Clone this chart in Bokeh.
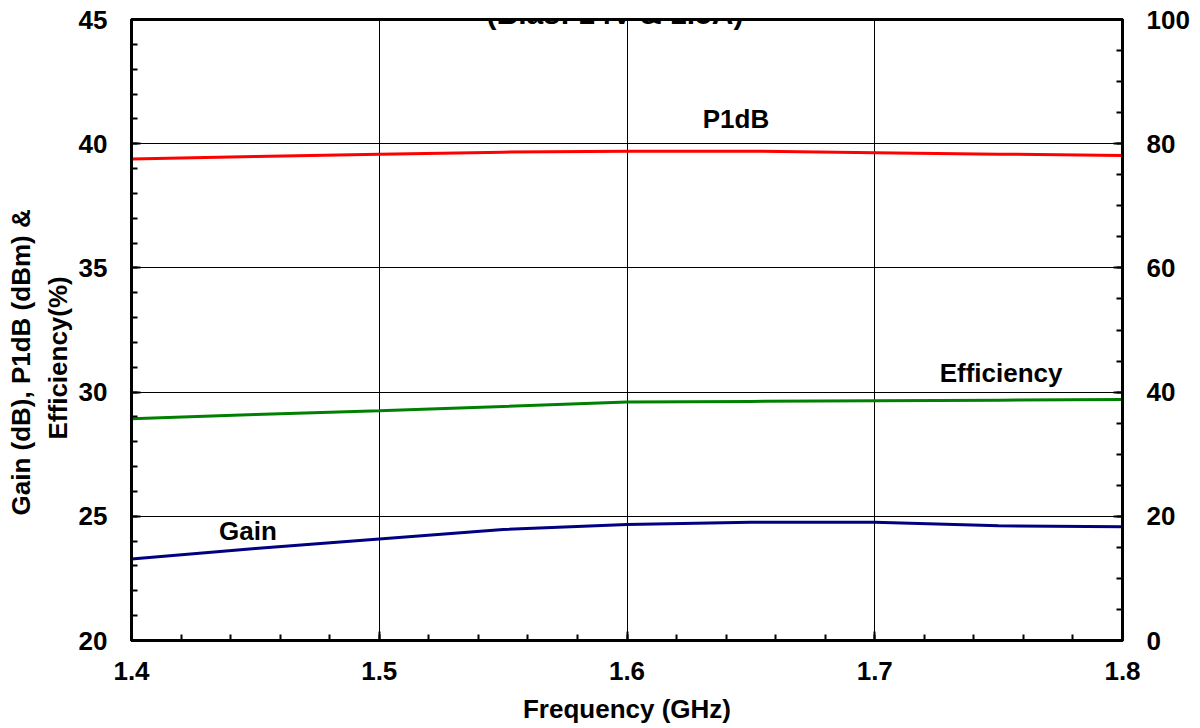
import math
from bokeh.plotting import figure
from bokeh.models import (Range1d, LinearAxis, SingleIntervalTicker,
                          PrintfTickFormatter, Label, Title)
from bokeh.embed import file_html
from bokeh.resources import INLINE

# ---- data ----
freq_ghz = [1.40, 1.45, 1.50, 1.55, 1.60, 1.65, 1.70, 1.75, 1.80]
p1db_dbm = [39.38, 39.48, 39.58, 39.66, 39.70, 39.70, 39.64, 39.58, 39.52]
gain_db = [23.28, 23.70, 24.09, 24.47, 24.67, 24.76, 24.76, 24.62, 24.58]
efficiency_pct = [35.7, 36.4, 37.0, 37.7, 38.4, 38.5, 38.6, 38.7, 38.8]

title_text = "(Bias: 14V & 1.5A)"
x_label = "Frequency (GHz)"
y_label_line1 = "Gain (dB), P1dB (dBm) &"
y_label_line2 = "Efficiency(%)"

FONT = "Liberation Sans"

p = figure(width=1200, height=728, output_backend="svg", toolbar_location=None,
           x_range=Range1d(1.4, 1.8), y_range=Range1d(20, 45),
           min_border_left=131, min_border_right=78, min_border_top=19,
           min_border_bottom=88, x_axis_label=x_label)
p.background_fill_color = "white"
p.border_fill_color = "white"
p.outline_line_color = "black"
p.outline_line_width = 3
p.extra_y_ranges = {"eff": Range1d(0, 100)}

right_axis = LinearAxis(y_range_name="eff")
p.add_layout(right_axis, "right")

xt = SingleIntervalTicker(interval=0.1, num_minor_ticks=5)
yt = SingleIntervalTicker(interval=5, num_minor_ticks=5)
rt = SingleIntervalTicker(interval=20, num_minor_ticks=4)
p.xaxis[0].ticker = xt
p.yaxis[0].ticker = yt
right_axis.ticker = rt
p.xgrid.ticker = xt
p.ygrid.ticker = yt
p.xaxis[0].formatter = PrintfTickFormatter(format="%.1f")
p.yaxis[0].formatter = PrintfTickFormatter(format="%d")
right_axis.formatter = PrintfTickFormatter(format="%d")

for ax in [p.xaxis[0], p.yaxis[0], right_axis]:
    ax.axis_line_width = 3
    ax.axis_line_color = "black"
    ax.major_tick_in = 9
    ax.major_tick_out = 0
    ax.minor_tick_in = 6
    ax.minor_tick_out = 0
    ax.major_tick_line_width = 2
    ax.minor_tick_line_width = 2
    ax.major_tick_line_color = "black"
    ax.minor_tick_line_color = "black"
    ax.major_label_text_font = FONT
    ax.major_label_text_font_style = "bold"
    ax.major_label_text_font_size = "26px"
    ax.major_label_text_color = "black"

p.yaxis[0].major_label_standoff = 24
right_axis.major_label_standoff = 24
p.xaxis[0].major_label_standoff = 21
p.xaxis[0].axis_label_text_font = FONT
p.xaxis[0].axis_label_text_font_style = "bold"
p.xaxis[0].axis_label_text_font_size = "26px"
p.xaxis[0].axis_label_text_color = "black"
p.xaxis[0].axis_label_standoff = 11

for g in [p.xgrid, p.ygrid]:
    g.grid_line_color = "black"
    g.grid_line_width = 1
    g.grid_line_alpha = 1

p.line(freq_ghz, p1db_dbm, line_color="#FF0000", line_width=3)
p.line(freq_ghz, gain_db, line_color="#000080", line_width=3)
p.line(freq_ghz, efficiency_pct, line_color="#008000", line_width=3, y_range_name="eff")

def lab(x, y, text, size="26px", **kw):
    l = Label(x=x, y=y, text=text, text_font=FONT, text_font_style="bold",
              text_font_size=size, text_color="black", text_align="center",
              text_baseline="middle", **kw)
    p.add_layout(l)
    return l

lab(1.644, 41.01, "P1dB")
lab(1.751, 30.75, "Efficiency")
lab(1.447, 24.39, "Gain")

# rotated y-axis title (two lines), as side titles outside the frame
for txt, off, so in [(y_label_line2, 201, 6), (y_label_line1, 125, 4)]:
    t = Title(text=txt, text_font=FONT, text_font_style="bold",
              text_font_size="26px", text_color="black", align="left",
              offset=off, standoff=so)
    p.add_layout(t, "left")

# title (partially cut off at the top, as in the reference)
title_label = Label(x=1.6, y=45, x_offset=-12, y_offset=6, text=title_text,
                    text_font=FONT, text_font_style="bold", text_font_size="30px",
                    text_color="black", text_align="center",
                    text_baseline="alphabetic")
p.add_layout(title_label)

open("out.html", "w").write(file_html(p, INLINE))
